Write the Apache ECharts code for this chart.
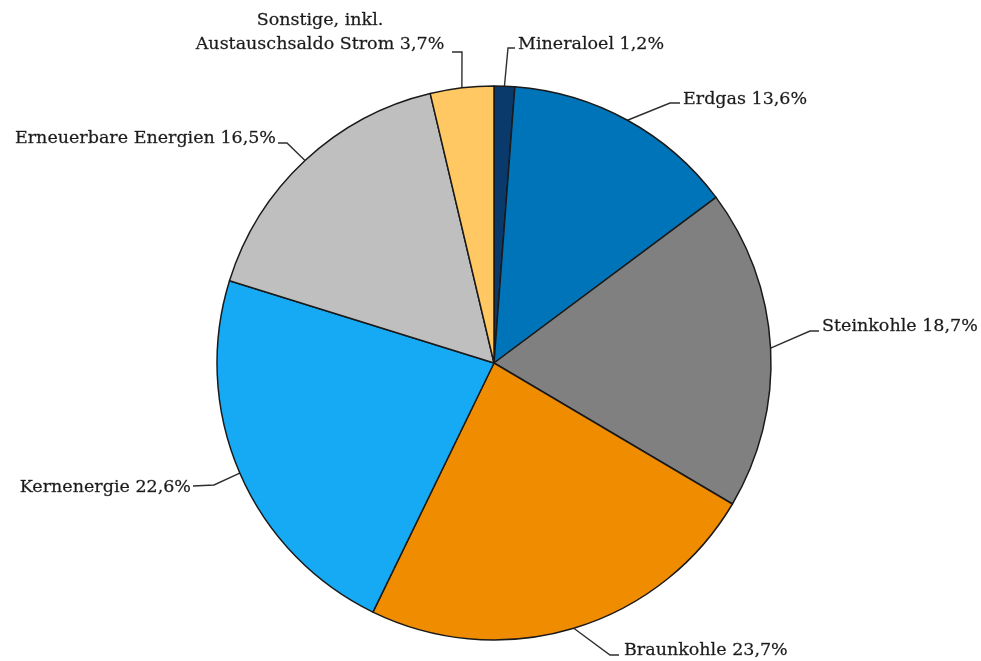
<!DOCTYPE html>
<html>
<head>
<meta charset="utf-8">
<script src="https://cdn.jsdelivr.net/npm/echarts@6/dist/echarts.min.js"></script>
<style>
html,body{margin:0;padding:0;background:#fff;}
#chart{width:981px;height:661px;}
</style>
</head>
<body>
<div id="chart"></div>
<script>
// ---- data ----
var categories = ['Mineraloel', 'Erdgas', 'Steinkohle', 'Braunkohle', 'Kernenergie', 'Erneuerbare Energien', 'Sonstige, inkl.\nAustauschsaldo Strom'];
var shares = [1.2, 13.6, 18.7, 23.7, 22.6, 16.5, 3.7];

// ---- styling / layout (not data) ----
var colors = ['#0a3a6b', '#0074b8', '#808080', '#f08c00', '#16aaf5', '#bfbfbf', '#ffc862'];
// bend point, end point of leader, label anchor, alignment
var leaderBend = [[508, 48], [670, 103], [810, 331], [610, 655], [214, 485], [287, 143], [462, 52]];
var leaderEnd  = [[515, 48], [680, 103], [819, 331], [619, 655], [193, 486], [278, 143], [452, 52]];
var labelAnchor = [[518, 44], [683, 99], [822, 326], [624, 650], [191, 487], [276, 138], [320, 32]];
var labelAlign = ['left', 'left', 'left', 'left', 'right', 'right', 'center'];

function fmt(v) { return String(v.toFixed(1)).replace('.', ',') + '%'; }

var chart = echarts.init(document.getElementById('chart'), null, {renderer: 'canvas'});
chart.setOption({
  backgroundColor: '#ffffff',
  animation: false,
  series: [{
    type: 'pie',
    center: [494, 363],
    radius: [0, 277],
    startAngle: 90,
    clockwise: true,
    avoidLabelOverlap: false,
    data: categories.map(function (c, i) {
      return {name: c, value: shares[i], itemStyle: {color: colors[i]}};
    }),
    itemStyle: {borderColor: '#1a1a1a', borderWidth: 1.5},
    label: {
      show: true,
      position: 'outside',
      fontFamily: 'DejaVu Serif',
      fontSize: 17.5,
      color: '#1a1a1a',
      textBorderColor: '#555555',
      textBorderWidth: 0.3,
      lineHeight: 24,
      formatter: function (p) { return p.name + ' ' + fmt(p.value); }
    },
    labelLine: {
      show: true,
      length: 10,
      length2: 10,
      smooth: false,
      lineStyle: {color: '#2e2e2e', width: 1.4}
    },
    labelLayout: function (p) {
      var i = p.dataIndex;
      var start = p.labelLinePoints ? p.labelLinePoints[0] : leaderBend[i];
      return {
        x: labelAnchor[i][0],
        y: labelAnchor[i][1],
        align: labelAlign[i],
        verticalAlign: 'middle',
        labelLinePoints: [start, leaderBend[i], leaderEnd[i]]
      };
    },
    emphasis: {disabled: true}
  }]
});
</script>
</body>
</html>
